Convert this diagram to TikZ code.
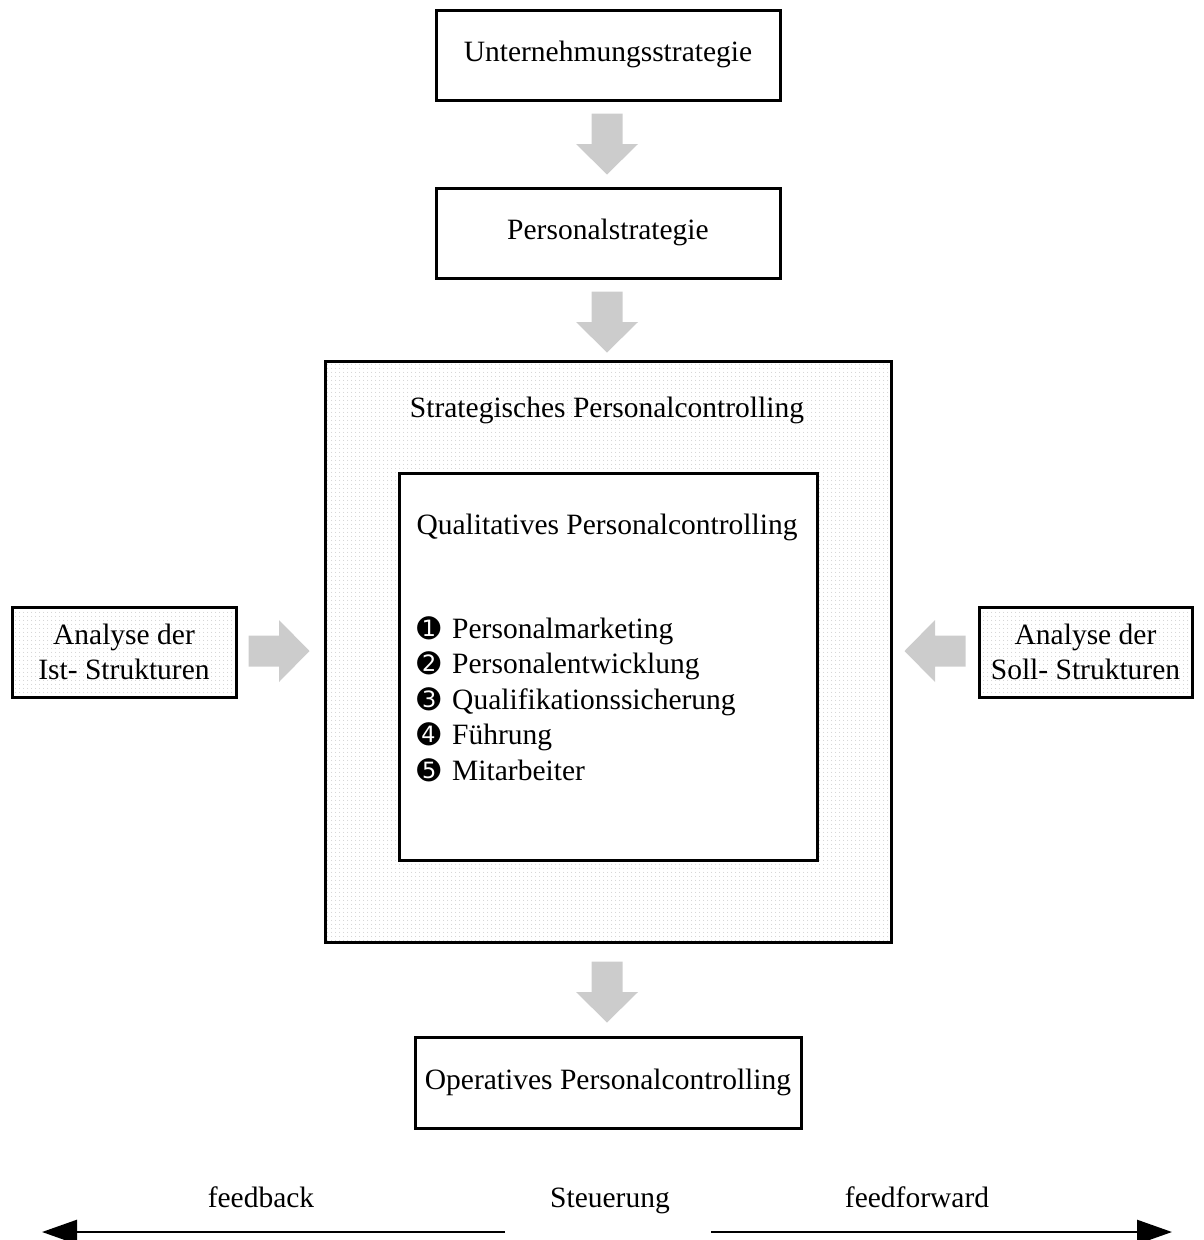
\documentclass[tikz,border=0pt]{standalone}
\usepackage{fontspec}
\setmainfont{Liberation Serif}
\newfontfamily\dingfont{DejaVu Sans}
\usetikzlibrary{arrows.meta,patterns.meta}
\newcommand\bulletdigit[1]{\makebox[35pt][l]{\dingfont\fontsize{28}{28}\selectfont #1}}
\begin{document}
\begin{tikzpicture}[x=1pt,y=-1pt,
  every node/.style={font=\fontsize{29.5}{35.5}\selectfont, inner sep=0pt},
  txt/.style={text height=20pt, text depth=6.5pt},
  box/.style={draw=black, line width=3pt, fill=white, txt},
  dotbox/.style={draw=black, line width=3pt, pattern={Dots[distance=4pt, radius=0.55pt]}, pattern color=black!28},
  grayblk/.style={fill=black!20, draw=none},
  item/.style={anchor=base west},
  fb/.style={line width=2.6pt, -{Triangle[length=35pt,width=24pt]}},
  downarr/.pic={\path[grayblk] (-15.5,-30.5) -- (15.5,-30.5) -- (15.5,0) -- (31,0) -- (0,30.5) -- (-31,0) -- (-15.5,0) -- cycle;},
  rightarr/.pic={\path[grayblk] (-30.5,-15.5) -- (-30.5,15.5) -- (0,15.5) -- (0,31) -- (30.5,0) -- (0,-31) -- (0,-15.5) -- cycle;},
  leftarr/.pic={\path[grayblk] (30.5,-15.5) -- (30.5,15.5) -- (0,15.5) -- (0,31) -- (-30.5,0) -- (0,-31) -- (0,-15.5) -- cycle;}
]
\useasboundingbox (0,0) rectangle (1204,1240);

% top boxes
\node[box, minimum width=344pt, minimum height=90pt] (us) at (608,55) {Unternehmungsstrategie};
\pic at (607,144) {downarr};
\node[box, minimum width=344pt, minimum height=90pt] (ps) at (608,233) {Personalstrategie};
\pic at (607,322) {downarr};

% strategic box
\node[dotbox, minimum width=566pt, minimum height=581pt] (spc) at (608,651.5) {};
\node[txt] (spct) at (607,411) {Strategisches Personalcontrolling};
\node[box, minimum width=418pt, minimum height=387pt] (qpc) at (608,666.5) {};
\node[txt] (qpct) at (607,528) {Qualitatives Personalcontrolling};

\node[item] (i1) at (417,638) {\bulletdigit{➊}Personalmarketing};
\node[item] (i2) at (417,673.5) {\bulletdigit{➋}Personalentwicklung};
\node[item] (i3) at (417,709) {\bulletdigit{➌}Qualifikationssicherung};
\node[item] (i4) at (417,744.5) {\bulletdigit{➍}Führung};
\node[item] (i5) at (417,780) {\bulletdigit{➎}Mitarbeiter};

% side boxes
\node[dotbox, minimum width=224pt, minimum height=90pt, align=center] (ist) at (124,652) {Analyse der\\Ist- Strukturen};
\pic at (279,651) {rightarr};
\node[dotbox, minimum width=213pt, minimum height=90pt, align=center] (soll) at (1085.5,652) {Analyse der\\Soll- Strukturen};
\pic at (935,651) {leftarr};

% bottom
\pic at (607,992) {downarr};
\node[box, minimum width=386pt, minimum height=91pt] (opc) at (608,1082.5) {Operatives Personalcontrolling};

\node[txt] (fbk) at (261,1201) {feedback};
\node[txt] (st) at (610,1201) {Steuerung};
\node[txt] (ffw) at (917,1201) {feedforward};

\coordinate (fbs) at (505,1232);
\coordinate (fbe) at (42,1232);
\coordinate (ffs) at (711,1232);
\coordinate (ffe) at (1172,1232);
\draw[fb] (fbs) -- (fbe);
\draw[fb] (ffs) -- (ffe);
\end{tikzpicture}
\end{document}
